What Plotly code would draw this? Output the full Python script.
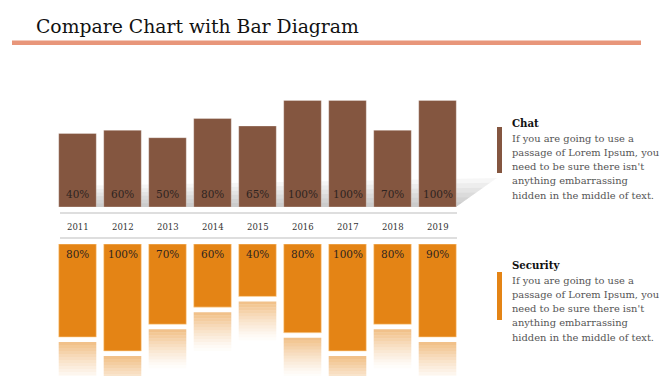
import plotly.graph_objects as go

# ---------------- data ----------------
years = ['2011', '2012', '2013', '2014', '2015', '2016', '2017', '2018', '2019']
chat_labels = [40, 60, 50, 80, 65, 100, 100, 70, 100]
chat_heights = [69, 72, 65, 83, 76, 100, 100, 72, 100]          # bar heights as drawn
security_labels = [80, 100, 70, 60, 40, 80, 100, 80, 90]
security_heights = [87, 100, 75, 59, 49, 83, 100, 75, 87]       # bar heights as drawn

title_text = 'Compare Chart with Bar Diagram'
chat_title = 'Chat'
security_title = 'Security'
body_lines = ['If you are going to use a',
              'passage of Lorem Ipsum, you',
              "need to be sure there isn't",
              'anything embarrassing',
              'hidden in the middle of text.']

# ---------------- styles ----------------
W, H = 670, 376
BROWN = '#845640'
ORANGE = '#E48415'
SERIF = 'DejaVu Serif, Liberation Serif, serif'


def px(x):
    return x / W


def py(y):
    return 1 - y / H


fig = go.Figure()

# top (Chat) bars
fig.add_trace(go.Bar(x=years, y=chat_heights, xaxis='x', yaxis='y',
                     marker=dict(color=BROWN, line=dict(color='rgba(255,255,255,0.3)', width=1)),
                     hoverinfo='skip', showlegend=False))

# bottom (Security) bars, reversed axis
fig.add_trace(go.Bar(x=years, y=security_heights, xaxis='x', yaxis='y2',
                     marker=dict(color=ORANGE, line=dict(color='rgba(255,220,170,0.6)', width=1)),
                     hoverinfo='skip', showlegend=False))

# reflections under security bars (gradient slices)
GAP = 4.7
STEP = 2.8
N = 13
for i in range(N):
    a = 0.5 * (1 - i / N) ** 1.3
    fig.add_trace(go.Bar(x=years, y=[STEP] * len(years),
                         base=[h + GAP + i * STEP for h in security_heights],
                         xaxis='x', yaxis='y2',
                         marker=dict(color=f'rgba(228,132,21,{a:.3f})', line=dict(width=0)),
                         hoverinfo='skip', showlegend=False))

shapes = []
# shadow behind top bars (layered to imitate a gradient)
for k in range(6):
    s = (k + 1) / 6
    x0, x1, yb = 60, 456, 207
    path = (f'M {px(x0)},{py(yb)} L {px(x1)},{py(yb)} '
            f'L {px(x1 + 41 * s)},{py(yb - 29 * s)} L {px(x0)},{py(yb - 21 * s)} Z')
    shapes.append(dict(type='path', path=path, xref='paper', yref='paper',
                       fillcolor='rgba(0,0,0,0.035)', line=dict(width=0), layer='below'))

# title underline
shapes.append(dict(type='rect', xref='paper', yref='paper', x0=px(12), x1=px(641),
                   y0=py(45), y1=py(40.5), fillcolor='#E8967A', line=dict(width=0)))
# axis lines
for yy in (213, 238):
    shapes.append(dict(type='line', xref='paper', yref='paper', x0=px(60), x1=px(457),
                       y0=py(yy), y1=py(yy), line=dict(color='#BDBDBD', width=1)))
# legend marker bars
shapes.append(dict(type='rect', xref='paper', yref='paper', x0=px(497), x1=px(502),
                   y0=py(173), y1=py(127), fillcolor=BROWN, line=dict(width=0)))
shapes.append(dict(type='rect', xref='paper', yref='paper', x0=px(497), x1=px(502),
                   y0=py(320), y1=py(272), fillcolor=ORANGE, line=dict(width=0)))

ann = []
ann.append(dict(text=title_text, x=px(34), y=py(27), xref='paper', yref='paper',
                xanchor='left', yanchor='middle', showarrow=False,
                font=dict(family=SERIF, size=18.8, color='#111111')))

for i, lab in enumerate(chat_labels):
    ann.append(dict(text=f'{lab}%', x=i, y=0, xref='x', yref='y', yshift=13,
                    xanchor='center', yanchor='middle', showarrow=False,
                    font=dict(family=SERIF, size=10.5, color='#2E2420')))
for i, lab in enumerate(security_labels):
    ann.append(dict(text=f'{lab}%', x=i, y=0, xref='x', yref='y2', yshift=-10,
                    xanchor='center', yanchor='middle', showarrow=False,
                    font=dict(family=SERIF, size=10.5, color='#2E2420')))
for i, yr in enumerate(years):
    ann.append(dict(text=yr, x=i, y=py(227), xref='x', yref='paper',
                    xanchor='center', yanchor='middle', showarrow=False,
                    font=dict(family=SERIF, size=8.5, color='#333333')))

# right-hand descriptions
for title, ty in ((chat_title, 123), (security_title, 265)):
    ann.append(dict(text=f'<b>{title}</b>', x=px(510), y=py(ty), xref='paper', yref='paper',
                    xanchor='left', yanchor='middle', showarrow=False,
                    font=dict(family=SERIF, size=10.2, color='#111111')))
    for j, line in enumerate(body_lines):
        ann.append(dict(text=line, x=px(510), y=py(ty + 15 + j * 14.3), xref='paper', yref='paper',
                        xanchor='left', yanchor='middle', showarrow=False,
                        font=dict(family=SERIF, size=9.9, color='#555555')))

fig.update_layout(
    width=W, height=H,
    margin=dict(l=0, r=0, t=0, b=0),
    paper_bgcolor='white',
    plot_bgcolor='rgba(0,0,0,0)',
    barmode='overlay',
    bargap=0.165,
    xaxis=dict(type='category', domain=[px(55), px(460)], range=[-0.5, 8.5],
               visible=False, fixedrange=True),
    yaxis=dict(domain=[py(207), py(92)], range=[0, (207 - 92) / 1.066],
               visible=False, fixedrange=True),
    yaxis2=dict(domain=[0, py(244)], range=[132 / 1.07, 0], anchor='x',
                visible=False, fixedrange=True),
    shapes=shapes,
    annotations=ann,
)

fig.write_html('out.html', config={'displayModeBar': False},
               post_script="document.body.style.margin='0';document.body.style.overflow='hidden';")
